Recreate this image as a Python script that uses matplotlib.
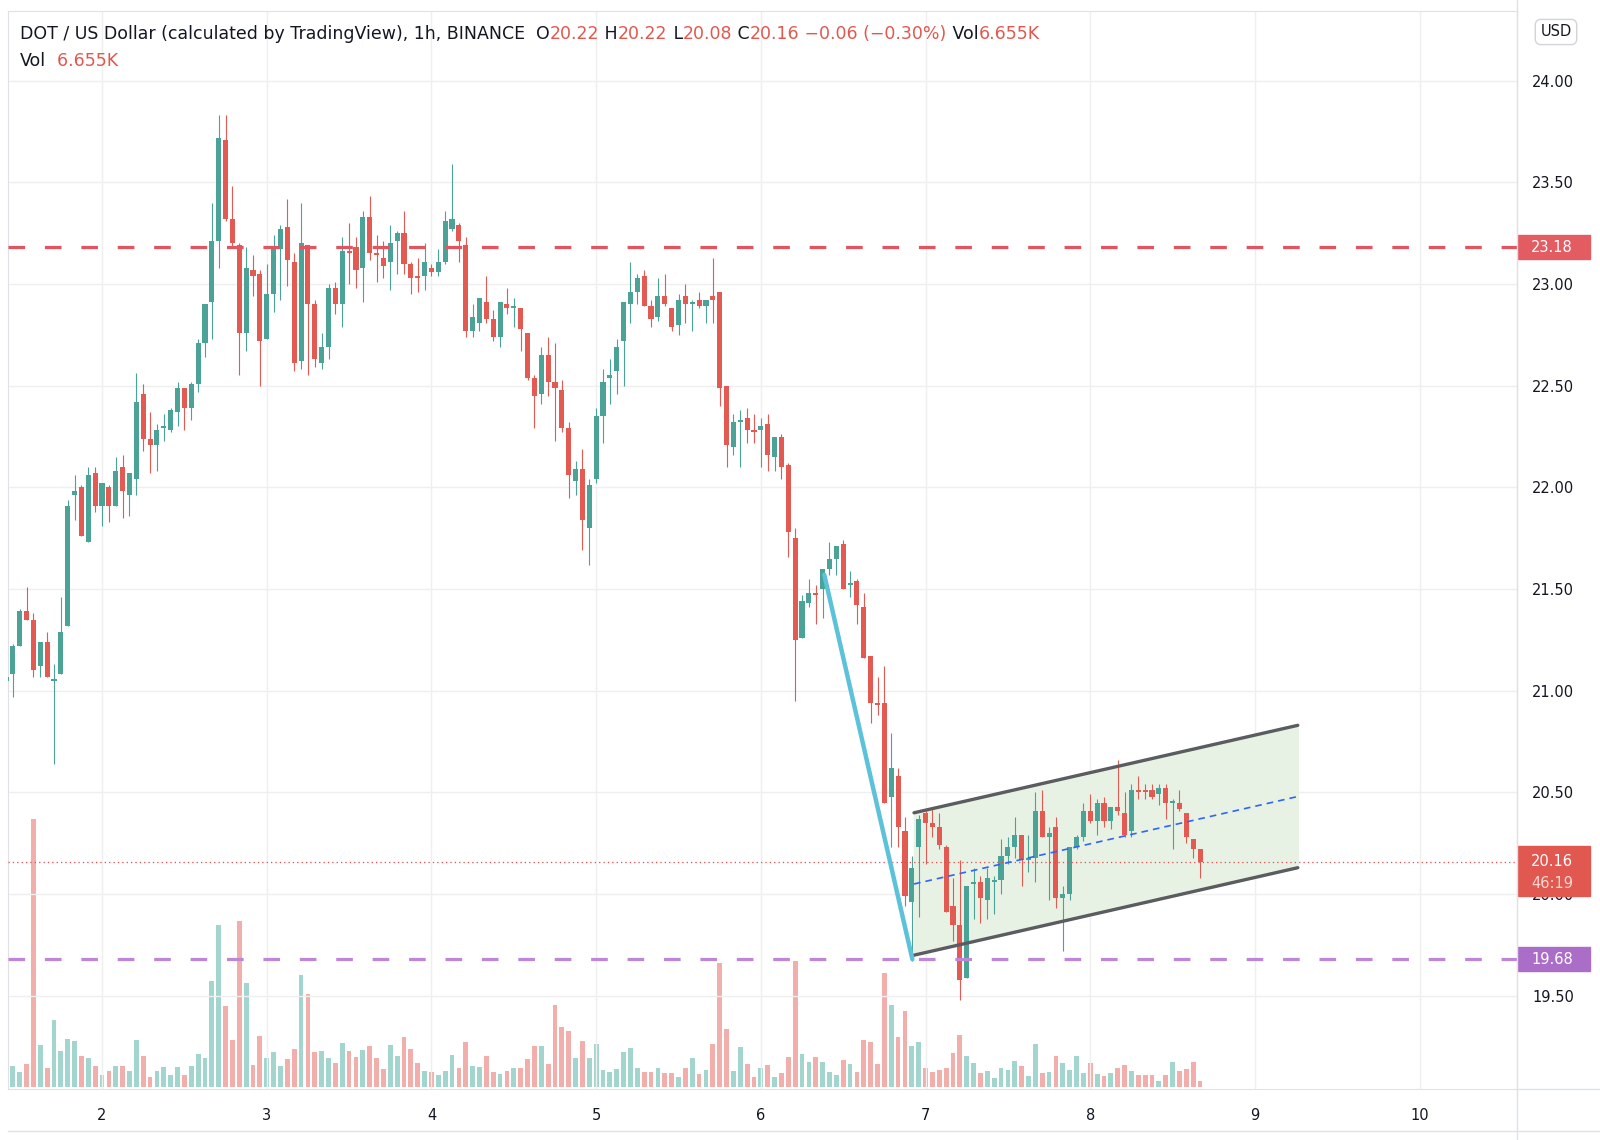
import numpy as np
import matplotlib.pyplot as plt
from matplotlib.patches import Rectangle
from matplotlib.lines import Line2D
import matplotlib.transforms as mtransforms

# DOT/USD hourly candles, first bar = day 1 10:00
start_day = 1 + 10 / 24
opens = [21.05, 21.08, 21.22, 21.39, 21.35, 21.12, 21.24, 21.05, 21.08, 21.32,
         21.96, 22.00, 21.73, 22.07, 21.91, 22.00, 21.91, 22.10, 21.96, 22.04,
         22.46, 22.24, 22.21, 22.29, 22.28, 22.37, 22.49, 22.39, 22.51, 22.71,
         22.91, 23.21, 23.71, 23.32, 23.19, 22.76, 23.07, 23.05, 22.73, 22.95,
         23.17, 23.28, 23.11, 22.62, 23.19, 22.90, 22.61, 22.69, 22.98, 22.90,
         23.16, 23.18, 23.08, 23.33, 23.15, 23.13, 23.11, 23.21, 23.25, 23.10,
         23.04, 23.04, 23.08, 23.06, 23.11, 23.27, 23.29, 23.19, 22.77, 22.81,
         22.91, 22.83, 22.74, 22.90, 22.88, 22.88, 22.76, 22.54, 22.46, 22.65,
         22.52, 22.48, 22.29, 22.03, 22.09, 21.80, 22.04, 22.35, 22.54, 22.57,
         22.72, 22.90, 22.96, 23.04, 22.89, 22.84, 22.94, 22.88, 22.80, 22.94,
         22.90, 22.92, 22.89, 22.94, 22.96, 22.50, 22.20, 22.32, 22.34, 22.28,
         22.28, 22.31, 22.15, 22.25, 22.11, 21.75, 21.26, 21.43, 21.48, 21.50,
         21.60, 21.65, 21.72, 21.52, 21.54, 21.41, 21.17, 20.94, 20.94, 20.48,
         20.58, 20.31, 19.96, 20.23, 20.40, 20.35, 20.33, 20.23, 19.94, 19.85,
         19.59, 20.05, 20.06, 19.97, 20.06, 20.07, 20.19, 20.23, 20.29, 20.17,
         20.18, 20.41, 20.28, 20.33, 19.98, 20.00, 20.23, 20.28, 20.41, 20.36,
         20.45, 20.36, 20.43, 20.40, 20.31, 20.51, 20.51, 20.51, 20.49, 20.52,
         20.45, 20.45, 20.40, 20.27, 20.22]
highs = [21.08, 21.23, 21.40, 21.51, 21.38, 21.24, 21.29, 21.13, 21.46, 21.94,
         22.06, 22.01, 22.10, 22.10, 22.02, 22.01, 22.15, 22.16, 22.07, 22.56,
         22.51, 22.37, 22.31, 22.36, 22.39, 22.52, 22.49, 22.52, 22.73, 22.90,
         23.40, 23.83, 23.83, 23.48, 23.20, 23.18, 23.14, 23.07, 23.10, 23.24,
         23.29, 23.42, 23.15, 23.40, 23.19, 22.92, 22.76, 23.00, 23.01, 23.23,
         23.30, 23.23, 23.36, 23.43, 23.24, 23.21, 23.29, 23.26, 23.36, 23.11,
         23.13, 23.20, 23.10, 23.17, 23.36, 23.59, 23.30, 23.23, 22.90, 22.93,
         23.04, 22.87, 22.91, 22.98, 22.93, 22.88, 22.76, 22.55, 22.69, 22.74,
         22.71, 22.53, 22.32, 22.13, 22.19, 22.04, 22.39, 22.58, 22.63, 22.73,
         22.91, 23.11, 23.05, 23.07, 22.92, 23.03, 23.05, 22.88, 22.95, 23.00,
         22.92, 22.96, 22.92, 23.13, 22.96, 22.50, 22.36, 22.38, 22.39, 22.36,
         22.34, 22.36, 22.25, 22.26, 22.12, 21.80, 21.47, 21.55, 21.52, 21.60,
         21.73, 21.71, 21.74, 21.59, 21.55, 21.48, 21.17, 21.07, 21.12, 20.79,
         20.62, 20.38, 20.19, 20.39, 20.42, 20.42, 20.40, 20.24, 20.08, 20.17,
         20.04, 20.13, 20.09, 20.13, 20.09, 20.27, 20.28, 20.38, 20.29, 20.29,
         20.50, 20.51, 20.33, 20.38, 20.04, 20.23, 20.29, 20.45, 20.49, 20.47,
         20.48, 20.43, 20.66, 20.50, 20.54, 20.58, 20.54, 20.54, 20.54, 20.54,
         20.47, 20.51, 20.40, 20.27, 20.22]
lows = [21.00, 20.97, 21.22, 21.35, 21.07, 21.07, 21.07, 20.64, 21.08, 21.32,
        21.84, 21.76, 21.73, 21.88, 21.81, 21.83, 21.91, 21.85, 21.86, 21.96,
        22.18, 22.07, 22.08, 22.23, 22.27, 22.30, 22.28, 22.33, 22.47, 22.64,
        22.73, 23.08, 23.31, 23.18, 22.55, 22.67, 22.94, 22.50, 22.73, 22.86,
        22.92, 22.99, 22.57, 22.58, 22.55, 22.59, 22.58, 22.63, 22.85, 22.79,
        23.00, 22.98, 22.91, 23.12, 23.01, 23.03, 22.97, 23.05, 23.05, 22.95,
        22.96, 22.97, 23.04, 23.04, 23.10, 23.26, 23.11, 22.74, 22.74, 22.77,
        22.81, 22.72, 22.69, 22.85, 22.79, 22.67, 22.53, 22.29, 22.41, 22.45,
        22.23, 22.27, 21.95, 21.96, 21.69, 21.62, 22.02, 22.22, 22.41, 22.46,
        22.50, 22.81, 22.90, 22.89, 22.79, 22.82, 22.89, 22.77, 22.75, 22.81,
        22.77, 22.88, 22.81, 22.81, 22.40, 22.10, 22.16, 22.10, 22.22, 22.22,
        22.10, 22.08, 22.08, 22.04, 21.66, 20.95, 21.26, 21.41, 21.33, 21.36,
        21.57, 21.57, 21.50, 21.46, 21.33, 21.16, 20.84, 20.88, 20.45, 20.23,
        20.23, 19.94, 19.67, 19.89, 20.15, 20.28, 20.22, 19.91, 19.77, 19.48,
        19.59, 19.88, 19.86, 19.88, 19.90, 20.00, 20.15, 20.18, 20.04, 20.11,
        20.06, 20.28, 19.97, 19.93, 19.72, 19.97, 20.22, 20.26, 20.35, 20.29,
        20.33, 20.32, 20.39, 20.28, 20.28, 20.47, 20.47, 20.47, 20.44, 20.37,
        20.22, 20.41, 20.25, 20.18, 20.08]
closes = [21.07, 21.22, 21.39, 21.35, 21.10, 21.24, 21.07, 21.06, 21.29, 21.91,
          21.98, 21.76, 22.06, 21.91, 22.02, 21.91, 22.08, 21.98, 22.07, 22.42,
          22.24, 22.21, 22.28, 22.30, 22.38, 22.49, 22.39, 22.51, 22.71, 22.90,
          23.21, 23.72, 23.32, 23.20, 22.76, 23.08, 23.04, 22.72, 22.95, 23.18,
          23.27, 23.12, 22.61, 23.20, 22.90, 22.63, 22.69, 22.98, 22.90, 23.16,
          23.15, 23.07, 23.33, 23.15, 23.14, 23.09, 23.20, 23.25, 23.10, 23.03,
          23.03, 23.11, 23.06, 23.11, 23.31, 23.32, 23.21, 22.77, 22.84, 22.93,
          22.83, 22.74, 22.91, 22.88, 22.89, 22.78, 22.54, 22.45, 22.65, 22.52,
          22.49, 22.29, 22.06, 22.09, 21.84, 22.01, 22.35, 22.52, 22.55, 22.69,
          22.91, 22.96, 23.03, 22.89, 22.83, 22.94, 22.90, 22.79, 22.92, 22.90,
          22.91, 22.89, 22.92, 22.92, 22.49, 22.21, 22.32, 22.33, 22.28, 22.27,
          22.30, 22.16, 22.25, 22.10, 21.78, 21.25, 21.44, 21.48, 21.47, 21.60,
          21.65, 21.71, 21.50, 21.53, 21.42, 21.16, 20.94, 20.93, 20.45, 20.62,
          20.33, 19.99, 20.13, 20.37, 20.35, 20.33, 20.24, 19.91, 19.85, 19.58,
          20.04, 20.06, 19.98, 20.08, 20.07, 20.19, 20.23, 20.29, 20.17, 20.18,
          20.41, 20.28, 20.30, 19.98, 20.00, 20.23, 20.28, 20.41, 20.36, 20.45,
          20.36, 20.43, 20.41, 20.29, 20.51, 20.50, 20.50, 20.48, 20.52, 20.45,
          20.46, 20.42, 20.28, 20.22, 20.16]
# volume in thousands of DOT
volumes = [13.0, 21.7, 15.8, 23.8, 281.8, 44.5, 20.0, 70.0, 37.5, 50.4,
           48.0, 32.2, 30.1, 21.7, 12.3, 16.5, 21.7, 21.7, 16.5, 49.0,
           32.2, 10.5, 16.5, 20.7, 13.0, 20.7, 13.0, 21.7, 35.0, 30.8,
           111.3, 169.8, 85.1, 49.7, 174.0, 109.6, 22.8, 53.6, 30.1, 36.4,
           22.4, 29.1, 39.6, 117.3, 98.0, 36.8, 37.5, 30.1, 24.9, 46.2,
           37.5, 31.5, 38.5, 42.7, 30.1, 18.9, 44.5, 32.2, 52.9, 40.3,
           24.9, 16.5, 15.4, 13.0, 17.2, 33.3, 20.0, 46.9, 21.7, 20.7,
           32.2, 15.4, 13.7, 16.5, 20.0, 20.0, 29.4, 43.4, 43.4, 24.2,
           86.5, 63.0, 58.8, 30.8, 48.7, 30.8, 45.2, 18.2, 15.8, 18.9,
           36.4, 40.6, 20.0, 15.4, 15.4, 20.0, 14.7, 14.7, 10.2, 20.0,
           30.5, 14.0, 17.9, 45.2, 130.2, 60.9, 17.2, 42.4, 24.5, 10.2,
           20.3, 23.5, 10.2, 15.1, 31.5, 132.7, 34.7, 26.3, 31.5, 26.3,
           16.1, 13.0, 28.0, 23.8, 16.1, 49.0, 47.3, 24.5, 119.7, 86.5,
           52.5, 79.5, 43.1, 47.3, 20.3, 16.1, 17.9, 20.3, 35.4, 54.3,
           32.9, 25.2, 15.1, 17.2, 9.5, 20.3, 17.9, 27.0, 22.1, 11.9,
           44.8, 15.1, 16.1, 32.2, 25.2, 17.9, 32.2, 14.4, 25.2, 13.7,
           11.9, 14.4, 20.3, 23.1, 16.8, 13.0, 13.0, 13.0, 6.7, 13.0,
           26.3, 17.2, 19.3, 26.3, 6.655]

day_ticks = [2, 3, 4, 5, 6, 7, 8, 9, 10]
price_ticks = [19.5, 20.0, 20.5, 21.0, 21.5, 22.0, 22.5, 23.0, 23.5, 24.0]
resistance = 23.18
support = 19.68
last_price = 20.16
countdown = '46:19'

# drawings: flag pole and rising channel (x in days, y in USD)
pole_x = [6.385, 6.92]
pole_y = [21.57, 19.68]
chan_x = [6.93, 9.26]
chan_top = [20.40, 20.83]
chan_bot = [19.70, 20.13]
chan_mid = [20.05, 20.48]

UP = '#4aa396'
DOWN = '#e25a51'
UP_VOL = '#a3d5cf'
DOWN_VOL = '#f2aeaa'
TXT = '#131722'
RED = '#e0584f'

o = np.array(opens)
h = np.array(highs)
l = np.array(lows)
c = np.array(closes)
v = np.array(volumes)
x = start_day + np.arange(len(o)) / 24
up = c >= o

fig = plt.figure(figsize=(16, 11.4), dpi=100)
rect = [8 / 1600, 51 / 1140, 1509 / 1600, 1078 / 1140]
xlim = (1.429, 10.591)

# volume pane underneath the price pane
axv = fig.add_axes(rect)
axv.bar(x, v, width=0.029, color=np.where(up, UP_VOL, DOWN_VOL), linewidth=0)
axv.set_xlim(*xlim)
axv.set_ylim(-2.1, 1129.8)
axv.axis('off')

ax = fig.add_axes(rect)
ax.patch.set_visible(False)
ax.set_xlim(*xlim)
ax.set_ylim(19.042, 24.342)

# candles
ax.vlines(x, l, h, colors=np.where(up, UP, DOWN), linewidth=0.8, zorder=3)
ax.bar(x, np.maximum(np.abs(c - o), 0.006), bottom=np.minimum(o, c), width=0.031,
       color=np.where(up, UP, DOWN), linewidth=0, zorder=3)

# horizontal levels
ax.axhline(resistance, color='#e25560', lw=2.3, dashes=(5.2, 6.2), zorder=4)
ax.axhline(support, color='#bd86d6', lw=2.3, dashes=(5.2, 6.2), zorder=4)
ax.axhline(last_price, color='#e8474b', lw=0.9, linestyle=(0, (1, 2.5)), zorder=4)

# channel + pole
ax.fill_between(chan_x, chan_bot, chan_top, color='#e7f2e4', zorder=1)
ax.plot(chan_x, chan_top, color='#5a5c60', lw=2.4, solid_capstyle='round', zorder=5)
ax.plot(chan_x, chan_bot, color='#5a5c60', lw=2.4, solid_capstyle='round', zorder=5)
ax.plot(chan_x, chan_mid, color='#2f66f5', lw=1.2, dashes=(4, 3), zorder=5)
ax.plot(pole_x, pole_y, color='#5bc2da', lw=3.2, solid_capstyle='round', zorder=5)

# grid and axes
ax.set_yticks(price_ticks)
ax.set_yticklabels([f'{p:.2f}' for p in price_ticks])
ax.set_xticks(day_ticks)
ax.set_xticklabels([str(d) for d in day_ticks])
ax.grid(color='#efefef', lw=1, zorder=0)
ax.set_axisbelow(True)
ax.yaxis.tick_right()
ax.tick_params(axis='y', length=0, pad=11, labelsize=10.5, labelcolor=TXT)
ax.tick_params(axis='x', length=0, pad=14, labelsize=10.5, labelcolor=TXT)
for s in ax.spines.values():
    s.set_color('#dfe1e6')

# price tags on the scale
tag = mtransforms.blended_transform_factory(ax.transAxes, ax.transData)


def price_tag(y0, y1, color):
    ax.add_patch(Rectangle((1.0007, y0), 0.0477, y1 - y0, transform=tag,
                           color=color, clip_on=False, zorder=10))


price_tag(resistance - 0.059, resistance + 0.059, '#e35c61')
ax.text(1.0093, resistance, f'{resistance:.2f}', transform=tag, color='white',
        fontsize=10.5, va='center', zorder=11)
price_tag(support - 0.059, support + 0.059, '#ab6ec8')
ax.text(1.0093, support, f'{support:.2f}', transform=tag, color='white',
        fontsize=10.5, va='center', zorder=11)
price_tag(last_price - 0.169, last_price + 0.077, RED)
ax.text(1.0093, last_price, f'{last_price:.2f}', transform=tag, color='white',
        fontsize=10.5, va='center', zorder=11)
ax.text(1.0093, last_price - 0.108, countdown, transform=tag, color='#fbd6d3',
        fontsize=10.5, va='center', zorder=11)

# currency button
fig.text(1556 / 1600, 1 - 32 / 1140, 'USD', fontsize=10.5, color=TXT, ha='center',
         va='center', bbox=dict(boxstyle='round,pad=0.35,rounding_size=0.4',
                                fc='white', ec='#d1d4dc', lw=1))

# separator lines around the price scale
fig.add_artist(Line2D([1517 / 1600, 1517 / 1600], [0, 1], color='#dfe1e6', lw=1))
fig.add_artist(Line2D([1517 / 1600, 1], [51 / 1140, 51 / 1140], color='#dfe1e6', lw=1))
fig.add_artist(Line2D([8 / 1600, 1], [9 / 1140, 9 / 1140], color='#dfe1e6', lw=1))


# legend header, pieces chained left to right
def header(y, parts, size=12.5):
    t = fig.text(20 / 1600, 1 - y / 1140, parts[0][0], color=parts[0][1],
                 fontsize=size, va='center')
    for s, col in parts[1:]:
        t = ax.annotate(s, xy=(1, 0), xycoords=t, va='bottom', ha='left',
                        color=col, fontsize=size, annotation_clip=False)


header(34, [('DOT / US Dollar (calculated by TradingView), 1h, BINANCE', TXT),
            ('  O', TXT), ('20.22', RED), (' H', TXT), ('20.22', RED),
            (' L', TXT), ('20.08', RED), (' C', TXT), ('20.16', RED),
            (' \u22120.06 (\u22120.30%)', RED), (' Vol', TXT), ('6.655K', RED)])
header(61, [('Vol', TXT), ('  6.655K', RED)])

fig.savefig('out.png', dpi=100, facecolor='white')
